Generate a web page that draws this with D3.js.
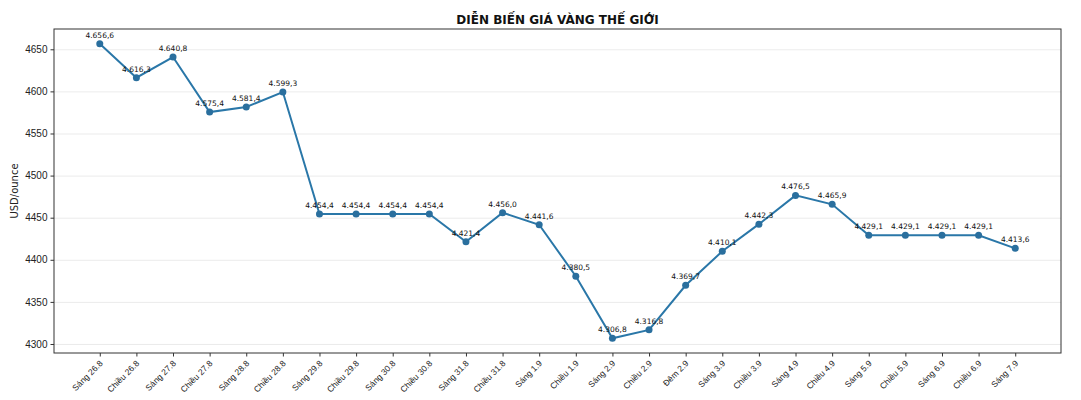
<!DOCTYPE html>
<html>
<head>
<meta charset="utf-8">
<script src="https://cdn.jsdelivr.net/npm/d3@7"></script>
<style>
  html, body { margin: 0; padding: 0; background: #fff; overflow: hidden; }
  svg { display: block; font-family: "DejaVu Sans", sans-serif; }
  .axis path, .axis line { stroke: #333; }
  .axis text { fill: #222; }
  .grid line { stroke: #e6e6e6; stroke-width: 0.8; }
  .grid path { display: none; }
</style>
</head>
<body>
<svg id="chart" width="1081" height="400"></svg>
<script>
const labels = [
  "Sáng 26.8", "Chiều 26.8", "Sáng 27.8", "Chiều 27.8", "Sáng 28.8", "Chiều 28.8",
  "Sáng 29.8", "Chiều 29.8", "Sáng 30.8", "Chiều 30.8", "Sáng 31.8", "Chiều 31.8",
  "Sáng 1.9", "Chiều 1.9", "Sáng 2.9", "Chiều 2.9", "Đêm 2.9", "Sáng 3.9",
  "Chiều 3.9", "Sáng 4.9", "Chiều 4.9", "Sáng 5.9", "Chiều 5.9", "Sáng 6.9",
  "Chiều 6.9", "Sáng 7.9"
];
const prices = [
  4656.6, 4616.3, 4640.8, 4575.4, 4581.4, 4599.3,
  4454.4, 4454.4, 4454.4, 4454.4, 4421.4, 4456.0,
  4441.6, 4380.5, 4306.8, 4316.8, 4369.7, 4410.1,
  4442.3, 4476.5, 4465.9, 4429.1, 4429.1, 4429.1,
  4429.1, 4413.6
];
const yTicks = [4300, 4350, 4400, 4450, 4500, 4550, 4600, 4650];

const svg = d3.select("#chart");
const width = 1081;
const height = 400;
const margin = { top: 29, right: 20, bottom: 47, left: 54 };
const innerWidth = width - margin.left - margin.right;
const innerHeight = height - margin.top - margin.bottom;

const g = svg.append("g").attr("transform", `translate(${margin.left},${margin.top})`);

const n = prices.length;
const xScale = d3.scaleLinear().domain([-1.25, n - 1 + 1.25]).range([0, innerWidth]);
const yMin = d3.min(prices), yMax = d3.max(prices);
const pad = (yMax - yMin) * 0.05;
const yScale = d3.scaleLinear().domain([yMin - pad, yMax + pad]).range([innerHeight, 0]);

// gridlines
g.append("g")
  .attr("class", "grid")
  .call(d3.axisLeft(yScale).tickValues(yTicks).tickSize(-innerWidth).tickFormat(""));

// frame
g.append("rect")
  .attr("width", innerWidth)
  .attr("height", innerHeight)
  .attr("fill", "none")
  .attr("stroke", "#333")
  .attr("stroke-width", 1);

const axisY = g.append("g")
  .attr("class", "axis")
  .call(d3.axisLeft(yScale).tickValues(yTicks).tickSize(3.5).tickPadding(3).tickFormat(d3.format("d")));
axisY.selectAll("text").attr("font-size", 10);
axisY.select(".domain").remove();

const axisX = g.append("g")
  .attr("class", "axis")
  .attr("transform", `translate(0,${innerHeight})`)
  .call(d3.axisBottom(xScale).tickValues(d3.range(n)).tickSize(3.5).tickFormat((i) => labels[i]));
axisX.select(".domain").remove();
axisX.selectAll("text")
  .attr("font-size", 8.5)
  .attr("text-anchor", "end")
  .attr("dy", 0)
  .attr("y", 0)
  .attr("transform", "translate(3,11) rotate(-45)");

// y label
svg.append("text")
  .attr("transform", `translate(18,${margin.top + innerHeight / 2}) rotate(-90)`)
  .attr("text-anchor", "middle")
  .attr("font-size", 10)
  .attr("fill", "#222")
  .text("USD/ounce");

// title
svg.append("text")
  .attr("x", margin.left + innerWidth / 2)
  .attr("y", 24)
  .attr("text-anchor", "middle")
  .attr("font-size", 12)
  .attr("font-weight", "bold")
  .attr("fill", "#111")
  .text("DIỄN BIẾN GIÁ VÀNG THẾ GIỚI");

const line = d3.line()
  .x((d, i) => xScale(i))
  .y((d) => yScale(d));

g.append("path")
  .datum(prices)
  .attr("fill", "none")
  .attr("stroke", "#2a77a8")
  .attr("stroke-width", 2)
  .attr("d", line);

g.selectAll(".dot")
  .data(prices)
  .enter()
  .append("circle")
  .attr("cx", (d, i) => xScale(i))
  .attr("cy", (d) => yScale(d))
  .attr("r", 3.5)
  .attr("fill", "#2a6f9e");

const fmt = (v) => {
  const s = v.toFixed(1).split(".");
  const intPart = s[0].replace(/\B(?=(\d{3})+(?!\d))/g, ".");
  return intPart + "," + s[1];
};

g.selectAll(".lbl")
  .data(prices)
  .enter()
  .append("text")
  .attr("x", (d, i) => xScale(i))
  .attr("y", (d) => yScale(d) - 6)
  .attr("text-anchor", "middle")
  .attr("font-size", 7.5)
  .attr("fill", "#111")
  .text((d) => fmt(d));
</script>
</body>
</html>
